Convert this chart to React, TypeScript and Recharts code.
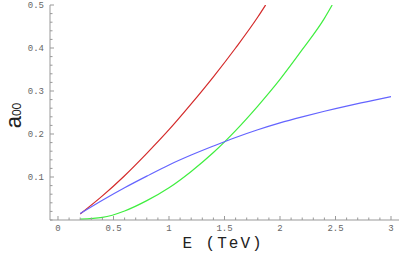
import { LineChart, Line, XAxis, YAxis } from 'recharts';

// energy (TeV) and amplitude a00
const redE = [0.2, 0.4, 0.6, 0.8, 1.0, 1.2, 1.4, 1.6, 1.8, 1.87];
const redA = [0.014, 0.056, 0.103, 0.155, 0.21, 0.27, 0.333, 0.4, 0.472, 0.5];

const greenE = [0.2, 0.4, 0.6, 0.8, 1.0, 1.2, 1.4, 1.6, 1.8, 2.0, 2.2, 2.4, 2.47];
const greenA = [0.002, 0.006, 0.021, 0.045, 0.075, 0.113, 0.157, 0.208, 0.265, 0.327, 0.396, 0.469, 0.5];

const blueE = [0.2, 0.4, 0.6, 0.8, 1.0, 1.2, 1.4, 1.6, 1.8, 2.0, 2.2, 2.4, 2.6, 2.8, 3.0];
const blueA = [0.015, 0.046, 0.075, 0.102, 0.128, 0.151, 0.172, 0.192, 0.21, 0.226, 0.24, 0.253, 0.265, 0.276, 0.287];

const xMajor = [0, 0.5, 1, 1.5, 2, 2.5, 3];
const xLabels = ['0', '0.5', '1', '1.5', '2', '2.5', '3'];
const yMajor = [0.1, 0.2, 0.3, 0.4, 0.5];
const yLabels = ['0.1', '0.2', '0.3', '0.4', '0.5'];

// minor ticks every 0.1 on E and every 0.02 on a00
const xTicks = Array.from({ length: 31 }, (_, i) => +(i * 0.1).toFixed(1));
const yTicks = Array.from({ length: 26 }, (_, i) => +(i * 0.02).toFixed(2));

const toPoints = (es: number[], as: number[]) => es.map((e, i) => ({ E: e, a: as[i] }));
const red = toPoints(redE, redA);
const green = toPoints(greenE, greenA);
const blue = toPoints(blueE, blueA);

const FRAME = '#999';
const LABEL = '#666';
const MONO = '"Liberation Mono", "DejaVu Sans Mono", monospace';

function labelOf(v: number, majors: number[], labels: string[]) {
  const i = majors.findIndex((m) => Math.abs(m - v) < 1e-6);
  return i >= 0 ? labels[i] : null;
}

function makeTick(side: 'bottom' | 'top' | 'left' | 'right') {
  return (props: any) => {
    const { x, y, payload } = props;
    const v = payload.value as number;
    const horiz = side === 'bottom' || side === 'top';
    const text = horiz ? labelOf(v, xMajor, xLabels) : labelOf(v, yMajor, yLabels);
    const len = text ? 4 : 2.5;
    let line;
    if (side === 'bottom') line = <line x1={x} y1={y} x2={x} y2={y - len} stroke={FRAME} />;
    else if (side === 'top') line = <line x1={x} y1={y} x2={x} y2={y + len} stroke={FRAME} />;
    else if (side === 'left') line = <line x1={x} y1={y} x2={x + len} y2={y} stroke={FRAME} />;
    else line = <line x1={x} y1={y} x2={x - len} y2={y} stroke={FRAME} />;
    return (
      <g>
        {line}
        {text && side === 'bottom' && (
          <text x={x} y={y + 11} textAnchor="middle" fontSize={9} fontFamily={MONO} fill={LABEL}>
            {text}
          </text>
        )}
        {text && side === 'left' && (
          <text x={x - 6} y={y + 3} textAnchor="end" fontSize={9} fontFamily={MONO} fill={LABEL}>
            {text}
          </text>
        )}
      </g>
    );
  };
}

export default function App() {
  return (
    <div style={{ position: 'absolute', left: 0, top: 0, background: '#fff' }}>
      <LineChart width={408} height={253} margin={{ top: 5, right: 9, bottom: 0, left: 0 }}>
        <XAxis
          xAxisId="b"
          type="number"
          dataKey="E"
          domain={[-0.072, 3.072]}
          ticks={xTicks}
          interval={0}
          allowDataOverflow
          height={33}
          tickSize={0}
          tickMargin={0}
          axisLine={{ stroke: FRAME }}
          tick={makeTick('bottom')}
          label={{
            content: () => (
              <text x={223} y={248} textAnchor="middle" fontSize={16} fontFamily={MONO} letterSpacing={2} fill="#222">
                E (TeV)
              </text>
            ),
          }}
        />
        <XAxis
          xAxisId="t"
          orientation="top"
          type="number"
          dataKey="E"
          domain={[-0.072, 3.072]}
          ticks={xTicks}
          interval={0}
          allowDataOverflow
          height={0}
          tickSize={0}
          tickMargin={0}
          axisLine={{ stroke: FRAME }}
          tick={makeTick('top')}
        />
        <YAxis
          yAxisId="l"
          type="number"
          domain={[0, 0.5]}
          ticks={yTicks}
          interval={0}
          allowDataOverflow
          width={50}
          tickSize={0}
          tickMargin={0}
          axisLine={{ stroke: FRAME }}
          tick={makeTick('left')}
          label={{
            content: () => (
              <text
                x={21}
                y={115.5}
                transform="rotate(-90 21 115.5)"
                textAnchor="middle"
                fontFamily='"Liberation Sans", Arial, sans-serif'
                fill="#222"
              >
                <tspan fontSize={22}>a</tspan>
                <tspan fontSize={12}>00</tspan>
              </text>
            ),
          }}
        />
        <YAxis
          yAxisId="r"
          orientation="right"
          type="number"
          domain={[0, 0.5]}
          ticks={yTicks}
          interval={0}
          allowDataOverflow
          width={0}
          tickSize={0}
          tickMargin={0}
          axisLine={{ stroke: FRAME }}
          tick={makeTick('right')}
        />
        <Line xAxisId="b" yAxisId="l" data={red} dataKey="a" type="monotone" stroke="#d42a2a" strokeWidth={1.2} dot={false} isAnimationActive={false} />
        <Line xAxisId="b" yAxisId="l" data={green} dataKey="a" type="monotone" stroke="#3fee3f" strokeWidth={1.2} dot={false} isAnimationActive={false} />
        <Line xAxisId="b" yAxisId="l" data={blue} dataKey="a" type="monotone" stroke="#6464ff" strokeWidth={1.2} dot={false} isAnimationActive={false} />
      </LineChart>
    </div>
  );
}
